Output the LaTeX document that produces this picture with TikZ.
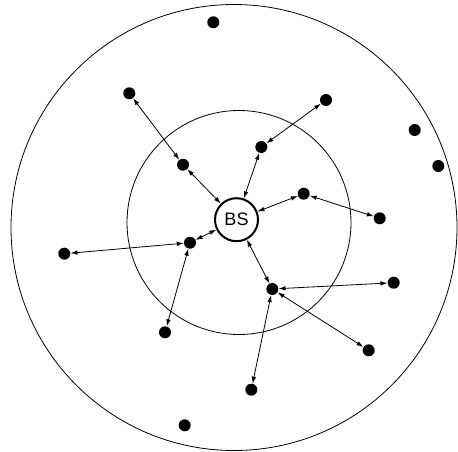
\documentclass[tikz,border=0pt]{standalone}
\usepackage{fontspec}
\setmainfont{Liberation Sans}
\usetikzlibrary{arrows.meta}
\begin{document}
\begin{tikzpicture}[x=1pt,y=-1pt,
  dot/.style={circle,fill=black,inner sep=0pt,minimum size=12pt},
  link/.style={line width=0.8pt,{Latex[length=7pt,width=4.5pt]}-{Latex[length=7pt,width=4.5pt]}},
  ring/.style={line width=0.8pt},
  bsnode/.style={circle,draw,line width=2pt,minimum size=43pt,inner sep=0pt,font=\fontsize{18}{20}\selectfont}]
\useasboundingbox (0,0) rectangle (458,452);
\draw[ring] (234,227.5) circle[radius=223pt];
\draw[ring] (239,222.5) circle[radius=112pt];
\node[bsnode] (bs) at (236.5,219.7) {BS};
\node[dot] (n1) at (213.3,22.3) {};
\node[dot] (n2) at (129.3,93.3) {};
\node[dot] (n3) at (326,100) {};
\node[dot] (n4) at (414.7,130) {};
\node[dot] (n5) at (438.3,166) {};
\node[dot] (n6) at (183,164.7) {};
\node[dot] (n7) at (261.3,147) {};
\node[dot] (n8) at (303.7,193.7) {};
\node[dot] (n9) at (379.7,218.3) {};
\node[dot] (n10) at (190,242.7) {};
\node[dot] (n11) at (64.3,253.7) {};
\node[dot] (n12) at (393.7,282.7) {};
\node[dot] (n13) at (272.3,289) {};
\node[dot] (n14) at (165,332.3) {};
\node[dot] (n15) at (368.7,350.3) {};
\node[dot] (n16) at (251.3,389.7) {};
\node[dot] (n17) at (184.7,425.3) {};
\draw[link] (n2) -- (n6);
\draw[link] (n6) -- (bs);
\draw[link] (n3) -- (n7);
\draw[link] (n7) -- (bs);
\draw[link] (n8) -- (bs);
\draw[link] (n8) -- (n9);
\draw[link] (n10) -- (bs);
\draw[link] (n10) -- (n11);
\draw[link] (n10) -- (n14);
\draw[link] (n13) -- (bs);
\draw[link] (n13) -- (n12);
\draw[link] (n13) -- (n15);
\draw[link] (n13) -- (n16);
\end{tikzpicture}
\end{document}
